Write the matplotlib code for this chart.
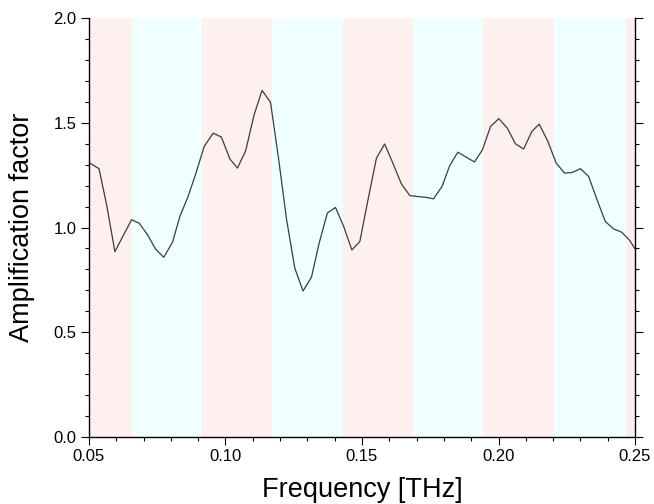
import numpy as np
import matplotlib
matplotlib.use('Agg')
import matplotlib.pyplot as plt
from matplotlib.ticker import MultipleLocator, FormatStrFormatter

plt.rcParams['font.family'] = ['Liberation Sans', 'DejaVu Sans']

# Данные
freq = [0.0503, 0.0537, 0.0566, 0.0595, 0.0625, 0.0656, 0.0684, 0.0715, 0.0744, 0.0774,
        0.0806, 0.0833, 0.0863, 0.0892, 0.0922, 0.0955, 0.0985, 0.1016, 0.1044, 0.1074,
        0.1105, 0.1134, 0.1165, 0.1195, 0.1224, 0.1254, 0.1284, 0.1315, 0.1343, 0.1373,
        0.1403, 0.1433, 0.1463, 0.1492, 0.1522, 0.1553, 0.1583, 0.1613, 0.1644, 0.1675,
        0.1703, 0.1732, 0.1762, 0.1793, 0.1821, 0.1851, 0.1882, 0.1912, 0.1941, 0.1971,
        0.2001, 0.2032, 0.2062, 0.2092, 0.2122, 0.2149, 0.2181, 0.2211, 0.2242, 0.2270,
        0.2300, 0.2330, 0.2360, 0.2391, 0.2421, 0.2451, 0.2479, 0.2509]
amp = [1.308, 1.281, 1.10, 0.885, 0.96, 1.037, 1.021, 0.965, 0.897, 0.858,
       0.930, 1.053, 1.148, 1.26, 1.387, 1.451, 1.432, 1.328, 1.284, 1.367,
       1.539, 1.655, 1.598, 1.324, 1.037, 0.806, 0.697, 0.763, 0.925, 1.069,
       1.096, 1.005, 0.893, 0.933, 1.132, 1.332, 1.399, 1.308, 1.209, 1.153,
       1.148, 1.145, 1.137, 1.196, 1.295, 1.360, 1.336, 1.313, 1.371, 1.483,
       1.520, 1.475, 1.400, 1.375, 1.459, 1.494, 1.411, 1.308, 1.260, 1.263,
       1.281, 1.244, 1.136, 1.029, 0.994, 0.978, 0.941, 0.88]

# Границы цветных полос
band_edges = [0.04, 0.0658, 0.0914, 0.1171, 0.1431, 0.1688, 0.1944, 0.2205, 0.2467, 0.26]
band_colors = ['#fff0f0', '#f0ffff']

fig = plt.figure(figsize=(6.54, 5.04), dpi=100)
ax = fig.add_axes([0.136, 0.133, 0.835, 0.831])

for i in range(len(band_edges) - 1):
    ax.axvspan(band_edges[i], band_edges[i + 1], color=band_colors[i % 2], lw=0, zorder=0)

ax.plot(freq, amp, color='#3c3c3c', lw=0.9, zorder=2)

ax.set_xlim(0.05, 0.25)
ax.set_ylim(0.0, 2.0)
ax.xaxis.set_major_locator(MultipleLocator(0.05))
ax.xaxis.set_minor_locator(MultipleLocator(0.01))
ax.yaxis.set_major_locator(MultipleLocator(0.5))
ax.yaxis.set_minor_locator(MultipleLocator(0.1))
ax.xaxis.set_major_formatter(FormatStrFormatter('%.2f'))
ax.yaxis.set_major_formatter(FormatStrFormatter('%.1f'))

ax.spines['top'].set_visible(False)
for s in ['left', 'right', 'bottom']:
    ax.spines[s].set_linewidth(1.0)
ax.tick_params(axis='both', which='major', direction='out', length=5.5, width=0.8,
               labelsize=12, right=True, labelright=False)
ax.tick_params(axis='both', which='minor', direction='out', length=2.8, width=0.8,
               right=True)

ax.set_xlabel('Frequency [THz]', fontsize=19.5, va='center')
ax.xaxis.set_label_coords(0.5, -0.127)
ax.set_ylabel('Amplification factor', fontsize=19.5, va='center')
ax.yaxis.set_label_coords(-0.123, 0.5)

fig.savefig('out.png', dpi=100)
